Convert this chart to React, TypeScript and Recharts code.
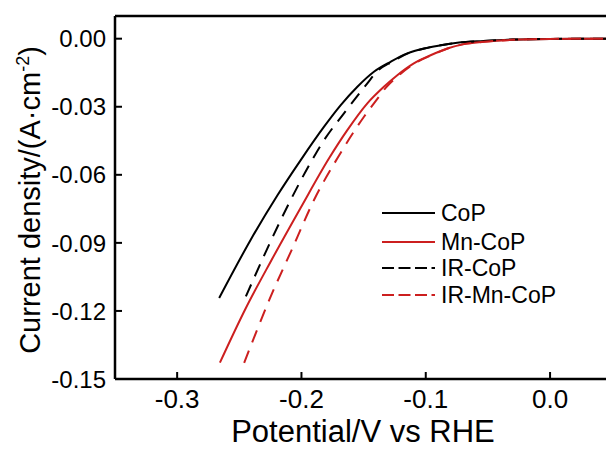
import React from "react";
import {
  LineChart,
  Line,
  XAxis,
  YAxis,
  ReferenceLine,
  Label,
} from "recharts";

// potentials (V vs RHE) and current densities (A/cm2)
const copX = [-0.2662, -0.2407, -0.2193, -0.2006, -0.1818, -0.1684, -0.155, -0.1417, -0.1283, -0.1149, -0.1015, -0.0881, -0.0747, -0.0536, -0.03, 0, 0.045];
const copY = [-0.1143, -0.0885, -0.069, -0.0535, -0.0388, -0.0293, -0.0212, -0.0146, -0.0102, -0.0065, -0.0043, -0.0029, -0.0018, -0.001, -0.0004, -0.0001, 0];

const mnCopX = [-0.2656, -0.2447, -0.2247, -0.2006, -0.1778, -0.1631, -0.147, -0.1337, -0.1229, -0.1096, -0.0961, -0.0827, -0.0694, -0.0533, -0.03, 0, 0.045];
const mnCopY = [-0.1428, -0.1187, -0.0982, -0.0745, -0.0527, -0.0403, -0.0285, -0.0212, -0.0161, -0.0109, -0.0073, -0.0043, -0.0024, -0.0014, -0.0005, -0.0001, 0];

const irCopX = [-0.2447, -0.2273, -0.21, -0.1925, -0.1818, -0.1658, -0.147, -0.1395, -0.1273, -0.1143, -0.101, -0.0877, -0.0745, -0.0535, -0.03, 0, 0.045];
const irCopY = [-0.1136, -0.0923, -0.0725, -0.0545, -0.0447, -0.0329, -0.0197, -0.0146, -0.0102, -0.0065, -0.0043, -0.0029, -0.0018, -0.001, -0.0004, -0.0001, 0];

const irMnCopX = [-0.2461, -0.2247, -0.2072, -0.1899, -0.1711, -0.1497, -0.1385, -0.1315, -0.1215, -0.1088, -0.0955, -0.0823, -0.0692, -0.0532, -0.03, 0, 0.045];
const irMnCopY = [-0.1429, -0.1136, -0.0923, -0.0711, -0.0527, -0.0344, -0.0262, -0.0212, -0.0161, -0.0109, -0.0073, -0.0043, -0.0024, -0.0014, -0.0005, -0.0001, 0];

const xTicks = [-0.3, -0.2, -0.1, 0];
const yTicks = [0, -0.03, -0.06, -0.09, -0.12, -0.15];

const zip = (xs: number[], ys: number[]) => xs.map((x, i) => ({ x, y: ys[i] }));

const series = [
  { name: "CoP", color: "#000000", dash: undefined, data: zip(copX, copY) },
  { name: "Mn-CoP", color: "#cc1f1f", dash: undefined, data: zip(mnCopX, mnCopY) },
  { name: "IR-CoP", color: "#000000", dash: "13 9", data: zip(irCopX, irCopY) },
  { name: "IR-Mn-CoP", color: "#cc1f1f", dash: "13 9", data: zip(irMnCopX, irMnCopY) },
];

const FONT = "'Liberation Sans', Arial, sans-serif";
const TICK_GAP = 9;

const YTick = (props: any) => {
  const { x, y, payload } = props;
  const ax = x + TICK_GAP;
  return (
    <g>
      <line x1={ax} x2={ax + 7} y1={y} y2={y} stroke="#000" strokeWidth={2} />
      <text x={x} y={y} dy="0.36em" textAnchor="end" fontSize={24} fontFamily={FONT} fill="#000">
        {payload.value.toFixed(2)}
      </text>
    </g>
  );
};

const XTick = (props: any) => {
  const { x, y, payload } = props;
  const ay = y - 8;
  const v = Math.abs(payload.value) < 1e-9 ? 0 : payload.value;
  return (
    <g>
      <line x1={x} x2={x} y1={ay} y2={ay - 7} stroke="#000" strokeWidth={2} />
      <text x={x} y={ay + 29} textAnchor="middle" fontSize={26} fontFamily={FONT} fill="#000">
        {v.toFixed(1)}
      </text>
    </g>
  );
};

const LegendBox = () => (
  <svg width={230} height={115} style={{ position: "absolute", left: 375, top: 195 }}>
    {series.map((s, i) => {
      const cy = [18, 47, 73, 100][i];
      return (
        <g key={s.name}>
          <line x1={7} x2={60} y1={cy} y2={cy} stroke={s.color} strokeWidth={2.2} strokeDasharray={s.dash ? "12 4.5" : undefined} />
          <text x={66} y={cy} dy="0.36em" fontSize={23} fontFamily={FONT} fill="#000">
            {s.name}
          </text>
        </g>
      );
    })}
  </svg>
);

export default function App() {
  return (
    <div style={{ position: "absolute", left: 0, top: 0, width: 606, height: 449, background: "#fff" }}>
      <LineChart width={606} height={449} margin={{ top: 16, right: 0, left: 0, bottom: 0 }}>
        <XAxis
          type="number"
          dataKey="x"
          domain={[-0.35, 0.045]}
          ticks={xTicks}
          allowDataOverflow
          height={70}
          tickSize={0}
          tickMargin={8}
          tickLine={false}
          tick={<XTick />}
          axisLine={{ stroke: "#000", strokeWidth: 2.5 }}
        >
          <Label
            content={() => (
              <text x={363} y={442} textAnchor="middle" fontSize={31} fontFamily={FONT} fill="#000">
                Potential/V vs RHE
              </text>
            )}
          />
        </XAxis>
        <YAxis
          type="number"
          dataKey="y"
          domain={[-0.15, 0.01]}
          ticks={yTicks}
          allowDataOverflow
          width={115}
          tickSize={0}
          tickMargin={TICK_GAP}
          tickLine={false}
          tick={<YTick />}
          axisLine={{ stroke: "#000", strokeWidth: 2.5 }}
        >
          <Label
            content={() => (
              <text
                x={40}
                y={200}
                transform="rotate(-90 40 200)"
                textAnchor="middle"
                fontSize={29}
                fontFamily={FONT}
                fill="#000"
              >
                Current density/(A·cm
                <tspan fontSize={18} dy={-11}>-2</tspan>
                <tspan dy={11}>)</tspan>
              </text>
            )}
          />
        </YAxis>
        <ReferenceLine y={0.01} stroke="#000" strokeWidth={2.5} />
        {series.map((s) => (
          <Line
            key={s.name}
            data={s.data}
            dataKey="y"
            name={s.name}
            type="monotone"
            stroke={s.color}
            strokeWidth={2}
            strokeDasharray={s.dash}
            dot={false}
            activeDot={false}
            isAnimationActive={false}
          />
        ))}
      </LineChart>
      <LegendBox />
    </div>
  );
}
